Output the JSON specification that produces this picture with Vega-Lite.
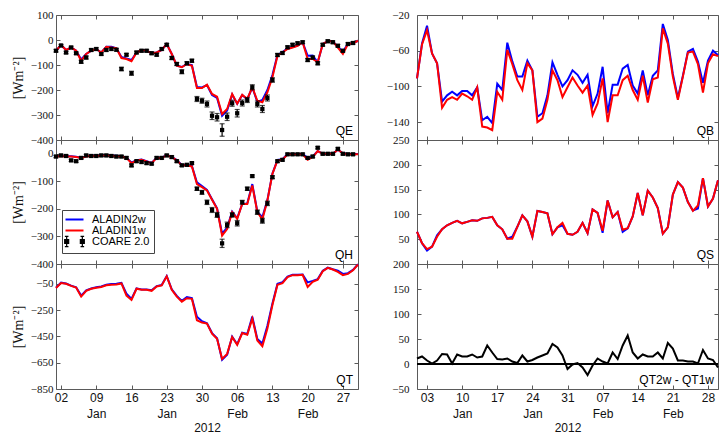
{
  "$schema": "https://vega.github.io/schema/vega-lite/v6.json",
  "padding": {"left": 10, "top": 8, "right": 0, "bottom": 0},
  "background": "white",
  "config": {
    "view": {"stroke": "#5a5a5a", "strokeWidth": 1},
    "axis": {"domain": false, "grid": false, "ticks": true, "tickColor": "#5a5a5a", "tickSize": -4, "tickWidth": 1, "tickCount": 30, "labelColor": "#111", "titleColor": "#111", "titleFontWeight": "normal", "labelOverlap": false, "zindex": 1},
    "axisX": {"labelFont": "Liberation Sans", "labelFontSize": 12, "labelPadding": 7, "labelLineHeight": 16, "labelFlush": false, "titleFont": "Liberation Sans", "titleFontSize": 12, "titlePadding": 3},
    "axisY": {"labelFont": "Liberation Serif", "labelFontSize": 11, "labelPadding": 7, "labelFlush": false, "titleFont": "Liberation Serif", "titleFontSize": 14, "titlePadding": 5}
  },
  "datasets": {
    "qe": [
      {"date":"2012-01-01","w2":-43,"w1":-43},{"date":"2012-01-02","w2":-20,"w1":-20},{"date":"2012-01-03","w2":-40,"w1":-40},{"date":"2012-01-04","w2":-30,"w1":-30},{"date":"2012-01-05","w2":-43,"w1":-43},
      {"date":"2012-01-06","w2":-78,"w1":-83},{"date":"2012-01-07","w2":-56,"w1":-56},{"date":"2012-01-08","w2":-43,"w1":-43},{"date":"2012-01-09","w2":-36,"w1":-36},{"date":"2012-01-10","w2":-50,"w1":-50},
      {"date":"2012-01-11","w2":-27,"w1":-27},{"date":"2012-01-12","w2":-27,"w1":-30},{"date":"2012-01-13","w2":-33,"w1":-33},{"date":"2012-01-14","w2":-68,"w1":-72},{"date":"2012-01-15","w2":-74,"w1":-76},
      {"date":"2012-01-16","w2":-80,"w1":-85},{"date":"2012-01-17","w2":-50,"w1":-50},{"date":"2012-01-18","w2":-40,"w1":-40},{"date":"2012-01-19","w2":-43,"w1":-43},{"date":"2012-01-20","w2":-53,"w1":-53},
      {"date":"2012-01-21","w2":-50,"w1":-50},{"date":"2012-01-22","w2":-40,"w1":-40},{"date":"2012-01-23","w2":-16,"w1":-16},{"date":"2012-01-24","w2":-56,"w1":-56},{"date":"2012-01-25","w2":-103,"w1":-103},
      {"date":"2012-01-26","w2":-108,"w1":-109},{"date":"2012-01-27","w2":-96,"w1":-96},{"date":"2012-01-28","w2":-100,"w1":-103},{"date":"2012-01-29","w2":-188,"w1":-192},{"date":"2012-01-30","w2":-190,"w1":-192},
      {"date":"2012-01-31","w2":-180,"w1":-179},{"date":"2012-02-01","w2":-220,"w1":-216},{"date":"2012-02-02","w2":-232,"w1":-227},{"date":"2012-02-03","w2":-303,"w1":-296},{"date":"2012-02-04","w2":-282,"w1":-276},
      {"date":"2012-02-05","w2":-218,"w1":-216},{"date":"2012-02-06","w2":-255,"w1":-255},{"date":"2012-02-07","w2":-220,"w1":-219},{"date":"2012-02-08","w2":-238,"w1":-236},{"date":"2012-02-09","w2":-189,"w1":-189},
      {"date":"2012-02-10","w2":-248,"w1":-243},{"date":"2012-02-11","w2":-240,"w1":-249},{"date":"2012-02-12","w2":-200,"w1":-209},{"date":"2012-02-13","w2":-140,"w1":-149},{"date":"2012-02-14","w2":-60,"w1":-63},
      {"date":"2012-02-15","w2":-48,"w1":-50},{"date":"2012-02-16","w2":-34,"w1":-36},{"date":"2012-02-17","w2":-28,"w1":-30},{"date":"2012-02-18","w2":-22,"w1":-23},{"date":"2012-02-19","w2":-9,"w1":-9},
      {"date":"2012-02-20","w2":-63,"w1":-76},{"date":"2012-02-21","w2":-62,"w1":-76},{"date":"2012-02-22","w2":-89,"w1":-89},{"date":"2012-02-23","w2":-16,"w1":-16},{"date":"2012-02-24","w2":-5,"w1":-5},
      {"date":"2012-02-25","w2":-5,"w1":-5},{"date":"2012-02-26","w2":-28,"w1":-30},{"date":"2012-02-27","w2":-46,"w1":-56},{"date":"2012-02-28","w2":-16,"w1":-16},{"date":"2012-02-29","w2":-13,"w1":-13},
      {"date":"2012-03-01","w2":-3,"w1":-3}
    ],
    "qe_obs": [
      {"date":"2012-01-01","value":-43,"err":5},{"date":"2012-01-02","value":-22,"err":4},{"date":"2012-01-03","value":-50,"err":5},{"date":"2012-01-04","value":-30,"err":5},{"date":"2012-01-05","value":-53,"err":5},
      {"date":"2012-01-06","value":-87,"err":6},{"date":"2012-01-07","value":-70,"err":6},{"date":"2012-01-08","value":-40,"err":5},{"date":"2012-01-09","value":-36,"err":5},{"date":"2012-01-10","value":-56,"err":5},
      {"date":"2012-01-11","value":-40,"err":5},{"date":"2012-01-12","value":-36,"err":5},{"date":"2012-01-13","value":-39,"err":5},{"date":"2012-01-14","value":-116,"err":7},{"date":"2012-01-15","value":-59,"err":5},
      {"date":"2012-01-16","value":-133,"err":8},{"date":"2012-01-17","value":-50,"err":5},{"date":"2012-01-18","value":-43,"err":5},{"date":"2012-01-19","value":-43,"err":5},{"date":"2012-01-20","value":-53,"err":5},
      {"date":"2012-01-21","value":-59,"err":5},{"date":"2012-01-22","value":-36,"err":5},{"date":"2012-01-23","value":-19,"err":5},{"date":"2012-01-24","value":-72,"err":6},{"date":"2012-01-25","value":-96,"err":6},
      {"date":"2012-01-26","value":-127,"err":8},{"date":"2012-01-27","value":-93,"err":6},{"date":"2012-01-28","value":-83,"err":6},{"date":"2012-01-29","value":-236,"err":10},{"date":"2012-01-30","value":-243,"err":10},
      {"date":"2012-01-31","value":-256,"err":12},{"date":"2012-02-01","value":-303,"err":15},{"date":"2012-02-02","value":-309,"err":15},{"date":"2012-02-03","value":-360,"err":25},{"date":"2012-02-04","value":-307,"err":15},
      {"date":"2012-02-05","value":-253,"err":12},{"date":"2012-02-06","value":-293,"err":15},{"date":"2012-02-07","value":-252,"err":12},{"date":"2012-02-08","value":-240,"err":10},{"date":"2012-02-09","value":-189,"err":10},
      {"date":"2012-02-10","value":-256,"err":12},{"date":"2012-02-11","value":-276,"err":14},{"date":"2012-02-12","value":-232,"err":12},{"date":"2012-02-13","value":-160,"err":9},{"date":"2012-02-14","value":-60,"err":6},
      {"date":"2012-02-15","value":-52,"err":5},{"date":"2012-02-16","value":-29,"err":5},{"date":"2012-02-17","value":-19,"err":5},{"date":"2012-02-18","value":-13,"err":5},{"date":"2012-02-19","value":-9,"err":5},
      {"date":"2012-02-20","value":-80,"err":6},{"date":"2012-02-21","value":-70,"err":6},{"date":"2012-02-22","value":-93,"err":6},{"date":"2012-02-23","value":-19,"err":5},{"date":"2012-02-24","value":-5,"err":5},
      {"date":"2012-02-25","value":-9,"err":5},{"date":"2012-02-26","value":-23,"err":5},{"date":"2012-02-27","value":-43,"err":5},{"date":"2012-02-28","value":-16,"err":5},{"date":"2012-02-29","value":-12,"err":5}
    ],
    "qh": [
      {"date":"2012-01-01","w2":-9,"w1":-10},{"date":"2012-01-02","w2":-7,"w1":-8},{"date":"2012-01-03","w2":-9,"w1":-10},{"date":"2012-01-04","w2":-9,"w1":-10},{"date":"2012-01-05","w2":-11,"w1":-12},
      {"date":"2012-01-06","w2":-14,"w1":-15},{"date":"2012-01-07","w2":-9,"w1":-10},{"date":"2012-01-08","w2":-6,"w1":-7},{"date":"2012-01-09","w2":-7,"w1":-8},{"date":"2012-01-10","w2":-5,"w1":-6},
      {"date":"2012-01-11","w2":-5,"w1":-6},{"date":"2012-01-12","w2":-6,"w1":-7},{"date":"2012-01-13","w2":-7,"w1":-8},{"date":"2012-01-14","w2":-9,"w1":-10},{"date":"2012-01-15","w2":-14,"w1":-15},
      {"date":"2012-01-16","w2":-32,"w1":-34},{"date":"2012-01-17","w2":-23,"w1":-24},{"date":"2012-01-18","w2":-21,"w1":-22},{"date":"2012-01-19","w2":-27,"w1":-28},{"date":"2012-01-20","w2":-33,"w1":-34},
      {"date":"2012-01-21","w2":-14,"w1":-15},{"date":"2012-01-22","w2":-14,"w1":-15},{"date":"2012-01-23","w2":-5,"w1":-6},{"date":"2012-01-24","w2":-11,"w1":-12},{"date":"2012-01-25","w2":-23,"w1":-24},
      {"date":"2012-01-26","w2":-41,"w1":-42},{"date":"2012-01-27","w2":-41,"w1":-42},{"date":"2012-01-28","w2":-44,"w1":-46},{"date":"2012-01-29","w2":-104,"w1":-110},{"date":"2012-01-30","w2":-117,"w1":-121},
      {"date":"2012-01-31","w2":-131,"w1":-133},{"date":"2012-02-01","w2":-165,"w1":-167},{"date":"2012-02-02","w2":-198,"w1":-200},{"date":"2012-02-03","w2":-290,"w1":-297},{"date":"2012-02-04","w2":-268,"w1":-273},
      {"date":"2012-02-05","w2":-210,"w1":-212},{"date":"2012-02-06","w2":-234,"w1":-236},{"date":"2012-02-07","w2":-182,"w1":-182},{"date":"2012-02-08","w2":-180,"w1":-182},{"date":"2012-02-09","w2":-110,"w1":-115},
      {"date":"2012-02-10","w2":-210,"w1":-212},{"date":"2012-02-11","w2":-230,"w1":-238},{"date":"2012-02-12","w2":-168,"w1":-170},{"date":"2012-02-13","w2":-72,"w1":-73},{"date":"2012-02-14","w2":-22,"w1":-24},
      {"date":"2012-02-15","w2":-20,"w1":-22},{"date":"2012-02-16","w2":-1,"w1":-2},{"date":"2012-02-17","w2":-1,"w1":-2},{"date":"2012-02-18","w2":-1,"w1":-2},{"date":"2012-02-19","w2":-1,"w1":-2},
      {"date":"2012-02-20","w2":-15,"w1":-22},{"date":"2012-02-21","w2":-10,"w1":-12},{"date":"2012-02-22","w2":10,"w1":10},{"date":"2012-02-23","w2":0,"w1":0},{"date":"2012-02-24","w2":0,"w1":0},
      {"date":"2012-02-25","w2":0,"w1":0},{"date":"2012-02-26","w2":15,"w1":15},{"date":"2012-02-27","w2":2,"w1":2},{"date":"2012-02-28","w2":-1,"w1":-2},{"date":"2012-02-29","w2":-1,"w1":-2},
      {"date":"2012-03-01","w2":-1,"w1":-2}
    ],
    "qh_obs": [
      {"date":"2012-01-01","value":-10,"err":4},{"date":"2012-01-02","value":-6,"err":4},{"date":"2012-01-03","value":-8,"err":4},{"date":"2012-01-04","value":-24,"err":4},{"date":"2012-01-05","value":-27,"err":4},
      {"date":"2012-01-06","value":-15,"err":4},{"date":"2012-01-07","value":-6,"err":4},{"date":"2012-01-08","value":-8,"err":4},{"date":"2012-01-09","value":-8,"err":4},{"date":"2012-01-10","value":-6,"err":4},
      {"date":"2012-01-11","value":-6,"err":4},{"date":"2012-01-12","value":-8,"err":4},{"date":"2012-01-13","value":-10,"err":4},{"date":"2012-01-14","value":-10,"err":4},{"date":"2012-01-15","value":-15,"err":4},
      {"date":"2012-01-16","value":-42,"err":5},{"date":"2012-01-17","value":-27,"err":4},{"date":"2012-01-18","value":-30,"err":4},{"date":"2012-01-19","value":-34,"err":4},{"date":"2012-01-20","value":-36,"err":4},
      {"date":"2012-01-21","value":-15,"err":4},{"date":"2012-01-22","value":-15,"err":4},{"date":"2012-01-23","value":-6,"err":4},{"date":"2012-01-24","value":-12,"err":4},{"date":"2012-01-25","value":-27,"err":4},
      {"date":"2012-01-26","value":-42,"err":4},{"date":"2012-01-27","value":-40,"err":4},{"date":"2012-01-28","value":-34,"err":4},{"date":"2012-01-29","value":-127,"err":6},{"date":"2012-01-30","value":-140,"err":7},
      {"date":"2012-01-31","value":-176,"err":8},{"date":"2012-02-01","value":-204,"err":9},{"date":"2012-02-02","value":-222,"err":9},{"date":"2012-02-03","value":-325,"err":15},{"date":"2012-02-04","value":-258,"err":10},
      {"date":"2012-02-05","value":-222,"err":8},{"date":"2012-02-06","value":-252,"err":10},{"date":"2012-02-07","value":-176,"err":7},{"date":"2012-02-08","value":-127,"err":6},{"date":"2012-02-09","value":-81,"err":4},
      {"date":"2012-02-10","value":-212,"err":8},{"date":"2012-02-11","value":-243,"err":9},{"date":"2012-02-12","value":-180,"err":8},{"date":"2012-02-13","value":-85,"err":5},{"date":"2012-02-14","value":-27,"err":4},
      {"date":"2012-02-15","value":-22,"err":4},{"date":"2012-02-16","value":-2,"err":4},{"date":"2012-02-17","value":-2,"err":4},{"date":"2012-02-18","value":-2,"err":4},{"date":"2012-02-19","value":-2,"err":4},
      {"date":"2012-02-20","value":-15,"err":4},{"date":"2012-02-21","value":-10,"err":4},{"date":"2012-02-22","value":22,"err":4},{"date":"2012-02-23","value":0,"err":4},{"date":"2012-02-24","value":0,"err":4},
      {"date":"2012-02-25","value":0,"err":4},{"date":"2012-02-26","value":18,"err":4},{"date":"2012-02-27","value":0,"err":4},{"date":"2012-02-28","value":-2,"err":4},{"date":"2012-02-29","value":-2,"err":4}
    ],
    "qt": [
      {"date":"2012-01-01","w2":-80,"w1":-83},{"date":"2012-01-02","w2":-42,"w1":-45},{"date":"2012-01-03","w2":-48,"w1":-50},{"date":"2012-01-04","w2":-64,"w1":-66},{"date":"2012-01-05","w2":-77,"w1":-79},
      {"date":"2012-01-06","w2":-140,"w1":-148},{"date":"2012-01-07","w2":-100,"w1":-104},{"date":"2012-01-08","w2":-86,"w1":-88},{"date":"2012-01-09","w2":-76,"w1":-80},{"date":"2012-01-10","w2":-70,"w1":-75},
      {"date":"2012-01-11","w2":-58,"w1":-62},{"date":"2012-01-12","w2":-52,"w1":-58},{"date":"2012-01-13","w2":-50,"w1":-55},{"date":"2012-01-14","w2":-44,"w1":-48},{"date":"2012-01-15","w2":-125,"w1":-140},
      {"date":"2012-01-16","w2":-165,"w1":-173},{"date":"2012-01-17","w2":-85,"w1":-88},{"date":"2012-01-18","w2":-94,"w1":-96},{"date":"2012-01-19","w2":-94,"w1":-96},{"date":"2012-01-20","w2":-100,"w1":-104},
      {"date":"2012-01-21","w2":-68,"w1":-71},{"date":"2012-01-22","w2":-60,"w1":-63},{"date":"2012-01-23","w2":8,"w1":6},{"date":"2012-01-24","w2":-92,"w1":-96},{"date":"2012-01-25","w2":-142,"w1":-148},
      {"date":"2012-01-26","w2":-180,"w1":-186},{"date":"2012-01-27","w2":-152,"w1":-160},{"date":"2012-01-28","w2":-160,"w1":-165},{"date":"2012-01-29","w2":-301,"w1":-327},{"date":"2012-01-30","w2":-335,"w1":-345},
      {"date":"2012-01-31","w2":-350,"w1":-353},{"date":"2012-02-01","w2":-425,"w1":-429},{"date":"2012-02-02","w2":-465,"w1":-468},{"date":"2012-02-03","w2":-628,"w1":-621},{"date":"2012-02-04","w2":-590,"w1":-583},
      {"date":"2012-02-05","w2":-452,"w1":-455},{"date":"2012-02-06","w2":-510,"w1":-514},{"date":"2012-02-07","w2":-422,"w1":-425},{"date":"2012-02-08","w2":-432,"w1":-437},{"date":"2012-02-09","w2":-300,"w1":-315},
      {"date":"2012-02-10","w2":-470,"w1":-481},{"date":"2012-02-11","w2":-505,"w1":-524},{"date":"2012-02-12","w2":-370,"w1":-391},{"date":"2012-02-13","w2":-200,"w1":-211},{"date":"2012-02-14","w2":-50,"w1":-58},
      {"date":"2012-02-15","w2":-38,"w1":-45},{"date":"2012-02-16","w2":5,"w1":0},{"date":"2012-02-17","w2":18,"w1":15},{"date":"2012-02-18","w2":18,"w1":15},{"date":"2012-02-19","w2":20,"w1":18},
      {"date":"2012-02-20","w2":-40,"w1":-75},{"date":"2012-02-21","w2":-28,"w1":-35},{"date":"2012-02-22","w2":-15,"w1":-19},{"date":"2012-02-23","w2":48,"w1":45},{"date":"2012-02-24","w2":72,"w1":71},
      {"date":"2012-02-25","w2":60,"w1":58},{"date":"2012-02-26","w2":50,"w1":40},{"date":"2012-02-27","w2":25,"w1":15},{"date":"2012-02-28","w2":30,"w1":25},{"date":"2012-02-29","w2":55,"w1":52},
      {"date":"2012-03-01","w2":98,"w1":96}
    ],
    "qb": [
      {"date":"2012-01-01","w2":-91,"w1":-91},{"date":"2012-01-02","w2":-52,"w1":-53},{"date":"2012-01-03","w2":-32,"w1":-37},{"date":"2012-01-04","w2":-63,"w1":-63},{"date":"2012-01-05","w2":-74,"w1":-74},
      {"date":"2012-01-06","w2":-117,"w1":-124},{"date":"2012-01-07","w2":-110,"w1":-115},{"date":"2012-01-08","w2":-106,"w1":-112},{"date":"2012-01-09","w2":-110,"w1":-115},{"date":"2012-01-10","w2":-105,"w1":-108},
      {"date":"2012-01-11","w2":-105,"w1":-111},{"date":"2012-01-12","w2":-110,"w1":-115},{"date":"2012-01-13","w2":-101,"w1":-101},{"date":"2012-01-14","w2":-138,"w1":-145},{"date":"2012-01-15","w2":-134,"w1":-146},
      {"date":"2012-01-16","w2":-141,"w1":-149},{"date":"2012-01-17","w2":-97,"w1":-106},{"date":"2012-01-18","w2":-104,"w1":-115},{"date":"2012-01-19","w2":-51,"w1":-59},{"date":"2012-01-20","w2":-72,"w1":-75},
      {"date":"2012-01-21","w2":-89,"w1":-93},{"date":"2012-01-22","w2":-89,"w1":-104},{"date":"2012-01-23","w2":-71,"w1":-74},{"date":"2012-01-24","w2":-82,"w1":-82},{"date":"2012-01-25","w2":-134,"w1":-140},
      {"date":"2012-01-26","w2":-130,"w1":-136},{"date":"2012-01-27","w2":-110,"w1":-115},{"date":"2012-01-28","w2":-73,"w1":-82},{"date":"2012-01-29","w2":-87,"w1":-93},{"date":"2012-01-30","w2":-100,"w1":-112},
      {"date":"2012-01-31","w2":-93,"w1":-101},{"date":"2012-02-01","w2":-82,"w1":-90},{"date":"2012-02-02","w2":-87,"w1":-99},{"date":"2012-02-03","w2":-96,"w1":-107},{"date":"2012-02-04","w2":-87,"w1":-99},
      {"date":"2012-02-05","w2":-122,"w1":-132},{"date":"2012-02-06","w2":-108,"w1":-119},{"date":"2012-02-07","w2":-78,"w1":-91},{"date":"2012-02-08","w2":-130,"w1":-140},{"date":"2012-02-09","w2":-98,"w1":-110},
      {"date":"2012-02-10","w2":-98,"w1":-110},{"date":"2012-02-11","w2":-80,"w1":-93},{"date":"2012-02-12","w2":-76,"w1":-88},{"date":"2012-02-13","w2":-99,"w1":-104},{"date":"2012-02-14","w2":-108,"w1":-115},
      {"date":"2012-02-15","w2":-82,"w1":-88},{"date":"2012-02-16","w2":-110,"w1":-118},{"date":"2012-02-17","w2":-88,"w1":-92},{"date":"2012-02-18","w2":-82,"w1":-90},{"date":"2012-02-19","w2":-30,"w1":-35},
      {"date":"2012-02-20","w2":-48,"w1":-52},{"date":"2012-02-21","w2":-86,"w1":-89},{"date":"2012-02-22","w2":-113,"w1":-115},{"date":"2012-02-23","w2":-88,"w1":-89},{"date":"2012-02-24","w2":-61,"w1":-62},
      {"date":"2012-02-25","w2":-58,"w1":-61},{"date":"2012-02-26","w2":-72,"w1":-75},{"date":"2012-02-27","w2":-96,"w1":-107},{"date":"2012-02-28","w2":-71,"w1":-74},{"date":"2012-02-29","w2":-60,"w1":-64},
      {"date":"2012-03-01","w2":-65,"w1":-66}
    ],
    "qs": [
      {"date":"2012-01-01","w2":65,"w1":65},{"date":"2012-01-02","w2":42,"w1":42},{"date":"2012-01-03","w2":27,"w1":30},{"date":"2012-01-04","w2":35,"w1":35},{"date":"2012-01-05","w2":58,"w1":55},
      {"date":"2012-01-06","w2":70,"w1":70},{"date":"2012-01-07","w2":78,"w1":78},{"date":"2012-01-08","w2":83,"w1":83},{"date":"2012-01-09","w2":87,"w1":87},{"date":"2012-01-10","w2":82,"w1":82},
      {"date":"2012-01-11","w2":85,"w1":85},{"date":"2012-01-12","w2":88,"w1":88},{"date":"2012-01-13","w2":87,"w1":87},{"date":"2012-01-14","w2":92,"w1":92},{"date":"2012-01-15","w2":93,"w1":93},
      {"date":"2012-01-16","w2":95,"w1":95},{"date":"2012-01-17","w2":78,"w1":78},{"date":"2012-01-18","w2":70,"w1":70},{"date":"2012-01-19","w2":51,"w1":51},{"date":"2012-01-20","w2":55,"w1":51},
      {"date":"2012-01-21","w2":75,"w1":75},{"date":"2012-01-22","w2":98,"w1":98},{"date":"2012-01-23","w2":86,"w1":86},{"date":"2012-01-24","w2":55,"w1":55},{"date":"2012-01-25","w2":107,"w1":107},
      {"date":"2012-01-26","w2":105,"w1":105},{"date":"2012-01-27","w2":102,"w1":102},{"date":"2012-01-28","w2":60,"w1":60},{"date":"2012-01-29","w2":74,"w1":74},{"date":"2012-01-30","w2":78,"w1":83},
      {"date":"2012-01-31","w2":61,"w1":61},{"date":"2012-02-01","w2":59,"w1":59},{"date":"2012-02-02","w2":65,"w1":65},{"date":"2012-02-03","w2":83,"w1":83},{"date":"2012-02-04","w2":62,"w1":62},
      {"date":"2012-02-05","w2":110,"w1":110},{"date":"2012-02-06","w2":103,"w1":103},{"date":"2012-02-07","w2":63,"w1":67},{"date":"2012-02-08","w2":128,"w1":128},{"date":"2012-02-09","w2":94,"w1":94},
      {"date":"2012-02-10","w2":105,"w1":105},{"date":"2012-02-11","w2":65,"w1":69},{"date":"2012-02-12","w2":72,"w1":72},{"date":"2012-02-13","w2":96,"w1":96},{"date":"2012-02-14","w2":143,"w1":143},
      {"date":"2012-02-15","w2":98,"w1":98},{"date":"2012-02-16","w2":148,"w1":148},{"date":"2012-02-17","w2":134,"w1":134},{"date":"2012-02-18","w2":113,"w1":113},{"date":"2012-02-19","w2":61,"w1":61},
      {"date":"2012-02-20","w2":74,"w1":74},{"date":"2012-02-21","w2":140,"w1":140},{"date":"2012-02-22","w2":165,"w1":165},{"date":"2012-02-23","w2":154,"w1":154},{"date":"2012-02-24","w2":125,"w1":125},
      {"date":"2012-02-25","w2":108,"w1":107},{"date":"2012-02-26","w2":112,"w1":118},{"date":"2012-02-27","w2":173,"w1":173},{"date":"2012-02-28","w2":116,"w1":116},{"date":"2012-02-29","w2":132,"w1":132},
      {"date":"2012-03-01","w2":169,"w1":169}
    ],
    "dqt": [
      {"date":"2012-01-01","diff":11},{"date":"2012-01-02","diff":15},{"date":"2012-01-03","diff":7},{"date":"2012-01-04","diff":1},{"date":"2012-01-05","diff":7},
      {"date":"2012-01-06","diff":20},{"date":"2012-01-07","diff":19},{"date":"2012-01-08","diff":1},{"date":"2012-01-09","diff":19},{"date":"2012-01-10","diff":15},
      {"date":"2012-01-11","diff":15},{"date":"2012-01-12","diff":19},{"date":"2012-01-13","diff":13},{"date":"2012-01-14","diff":15},{"date":"2012-01-15","diff":37},
      {"date":"2012-01-16","diff":23},{"date":"2012-01-17","diff":10},{"date":"2012-01-18","diff":9},{"date":"2012-01-19","diff":11},{"date":"2012-01-20","diff":5},
      {"date":"2012-01-21","diff":2},{"date":"2012-01-22","diff":17},{"date":"2012-01-23","diff":5},{"date":"2012-01-24","diff":8},{"date":"2012-01-25","diff":13},
      {"date":"2012-01-26","diff":17},{"date":"2012-01-27","diff":21},{"date":"2012-01-28","diff":40},{"date":"2012-01-29","diff":33},{"date":"2012-01-30","diff":17},
      {"date":"2012-01-31","diff":-10},{"date":"2012-02-01","diff":-1},{"date":"2012-02-02","diff":2},{"date":"2012-02-03","diff":-7},{"date":"2012-02-04","diff":-22},
      {"date":"2012-02-05","diff":-3},{"date":"2012-02-06","diff":11},{"date":"2012-02-07","diff":5},{"date":"2012-02-08","diff":1},{"date":"2012-02-09","diff":23},
      {"date":"2012-02-10","diff":10},{"date":"2012-02-11","diff":37},{"date":"2012-02-12","diff":57},{"date":"2012-02-13","diff":23},{"date":"2012-02-14","diff":11},
      {"date":"2012-02-15","diff":19},{"date":"2012-02-16","diff":15},{"date":"2012-02-17","diff":15},{"date":"2012-02-18","diff":23},{"date":"2012-02-19","diff":11},
      {"date":"2012-02-20","diff":42},{"date":"2012-02-21","diff":31},{"date":"2012-02-22","diff":7},{"date":"2012-02-23","diff":7},{"date":"2012-02-24","diff":5},
      {"date":"2012-02-25","diff":5},{"date":"2012-02-26","diff":1},{"date":"2012-02-27","diff":28},{"date":"2012-02-28","diff":11},{"date":"2012-02-29","diff":8},
      {"date":"2012-03-01","diff":-7}
    ]
  },
  "hconcat": [
    {
      "vconcat": [
        {
          "width": 302, "height": 125,
          "resolve": {"axis": {"x": "independent", "y": "independent"}},
          "layer": [
            {"data": {"name": "qe"}, "mark": {"type": "line", "strokeWidth": 2},
             "encoding": {
               "x": {"field": "date", "type": "temporal", "title": null, "scale": {"type": "utc", "domain": [{"year": 2012, "month": 1, "date": 1, "utc": true}, {"year": 2012, "month": 3, "date": 1, "utc": true}]},
                     "axis": {"labels": false, "values": [{"year":2012,"month":1,"date":2,"utc":true},{"year":2012,"month":1,"date":9,"utc":true},{"year":2012,"month":1,"date":16,"utc":true},{"year":2012,"month":1,"date":23,"utc":true},{"year":2012,"month":1,"date":30,"utc":true},{"year":2012,"month":2,"date":6,"utc":true},{"year":2012,"month":2,"date":13,"utc":true},{"year":2012,"month":2,"date":20,"utc":true},{"year":2012,"month":2,"date":27,"utc":true}]}},
               "y": {"field": "w2", "type": "quantitative", "title": "[Wm⁻²]", "scale": {"domain": [-400, 100], "nice": false, "zero": false}, "axis": {"values": [-400, -300, -200, -100, 0, 100], "format": "d"}},
               "color": {"datum": "ALADIN2w", "type": "nominal", "scale": {"domain": ["ALADIN2w", "ALADIN1w", "COARE 2.0"], "range": ["#0000ff", "#ff0000", "#000000"]}, "legend": null}
             }},
            {"data": {"name": "qe"}, "mark": {"type": "line", "strokeWidth": 2},
             "encoding": {
               "x": {"field": "date", "type": "temporal", "axis": null},
               "y": {"field": "w1", "type": "quantitative", "axis": null},
               "color": {"datum": "ALADIN1w", "type": "nominal", "legend": null}
             }},
            {"data": {"name": "qe_obs"}, "mark": {"type": "errorbar", "ticks": true, "color": "#000000", "thickness": 1.2},
             "encoding": {
               "x": {"field": "date", "type": "temporal", "axis": null},
               "y": {"field": "value", "type": "quantitative", "axis": null},
               "yError": {"field": "err"}
             }},
            {"data": {"name": "qe_obs"}, "mark": {"type": "point", "shape": "square", "filled": true, "color": "#000000", "size": 18, "opacity": 1},
             "encoding": {
               "x": {"field": "date", "type": "temporal", "axis": null},
               "y": {"field": "value", "type": "quantitative", "axis": null}
             }},
            {"data": {"values": [{"label": "QE"}]}, "mark": {"type": "text", "align": "right", "baseline": "alphabetic", "dx": -5, "dy": -5, "font": "Liberation Sans", "fontSize": 12, "color": "#000000"},
             "encoding": {
               "x": {"datum": {"year": 2012, "month": 3, "date": 1, "utc": true}, "type": "temporal", "title": null,
                     "axis": {"orient": "top", "labels": false, "values": [{"year":2012,"month":1,"date":2,"utc":true},{"year":2012,"month":1,"date":9,"utc":true},{"year":2012,"month":1,"date":16,"utc":true},{"year":2012,"month":1,"date":23,"utc":true},{"year":2012,"month":1,"date":30,"utc":true},{"year":2012,"month":2,"date":6,"utc":true},{"year":2012,"month":2,"date":13,"utc":true},{"year":2012,"month":2,"date":20,"utc":true},{"year":2012,"month":2,"date":27,"utc":true}]}},
               "y": {"datum": -400, "type": "quantitative", "title": null, "axis": {"orient": "right", "labels": false, "values": [-400, -300, -200, -100, 0, 100]}},
               "text": {"field": "label"}
             }}
          ]
        },
        {
          "width": 302, "height": 124,
          "resolve": {"axis": {"x": "independent", "y": "independent"}},
          "layer": [
            {"data": {"name": "qh"}, "mark": {"type": "line", "strokeWidth": 2},
             "encoding": {
               "x": {"field": "date", "type": "temporal", "title": null, "scale": {"type": "utc", "domain": [{"year": 2012, "month": 1, "date": 1, "utc": true}, {"year": 2012, "month": 3, "date": 1, "utc": true}]},
                     "axis": {"labels": false, "values": [{"year":2012,"month":1,"date":2,"utc":true},{"year":2012,"month":1,"date":9,"utc":true},{"year":2012,"month":1,"date":16,"utc":true},{"year":2012,"month":1,"date":23,"utc":true},{"year":2012,"month":1,"date":30,"utc":true},{"year":2012,"month":2,"date":6,"utc":true},{"year":2012,"month":2,"date":13,"utc":true},{"year":2012,"month":2,"date":20,"utc":true},{"year":2012,"month":2,"date":27,"utc":true}]}},
               "y": {"field": "w2", "type": "quantitative", "title": "[Wm⁻²]", "scale": {"domain": [-400, 50], "nice": false, "zero": false}, "axis": {"values": [-400, -300, -200, -100, 0], "format": "d"}},
               "color": {"datum": "ALADIN2w", "type": "nominal", "scale": {"domain": ["ALADIN2w", "ALADIN1w", "COARE 2.0"], "range": ["#0000ff", "#ff0000", "#000000"]},
                         "legend": {"orient": "none", "legendX": 6, "legendY": 70, "title": null, "direction": "vertical", "symbolType": "stroke", "symbolSize": 324, "symbolStrokeWidth": 2, "symbolOffset": 3, "labelOffset": 12, "rowPadding": -3, "padding": 4, "strokeColor": "#444444", "fillColor": "#ffffff", "cornerRadius": 0, "labelFont": "Liberation Sans", "labelFontSize": 11, "labelColor": "#000000",
                                    "encode": {"symbols": {"update": {
                                      "shape": {"signal": "datum.value === 'COARE 2.0' ? 'M-1.09,-0.22h0.44v0.44h-0.44Z M-0.87,-0.56V0.56 M-1.07,-0.56H-0.67 M-1.07,0.56H-0.67 M0.65,-0.22h0.44v0.44h-0.44Z M0.87,-0.56V0.56 M0.67,-0.56H1.07 M0.67,0.56H1.07' : 'stroke'"},
                                      "fill": {"signal": "datum.value === 'COARE 2.0' ? '#000000' : 'transparent'"},
                                      "stroke": {"signal": "datum.value === 'ALADIN2w' ? '#0000ff' : datum.value === 'ALADIN1w' ? '#ff0000' : '#000000'"},
                                      "strokeWidth": {"signal": "datum.value === 'COARE 2.0' ? 1.2 : 2"},
                                      "opacity": {"value": 1}
                                    }}}}}
             }},
            {"data": {"name": "qh"}, "mark": {"type": "line", "strokeWidth": 2},
             "encoding": {
               "x": {"field": "date", "type": "temporal", "axis": null},
               "y": {"field": "w1", "type": "quantitative", "axis": null},
               "color": {"datum": "ALADIN1w", "type": "nominal"}
             }},
            {"data": {"name": "qh_obs"}, "mark": {"type": "errorbar", "ticks": true, "color": "#000000", "thickness": 1.2},
             "encoding": {
               "x": {"field": "date", "type": "temporal", "axis": null},
               "y": {"field": "value", "type": "quantitative", "axis": null},
               "yError": {"field": "err"}
             }},
            {"data": {"name": "qh_obs"}, "mark": {"type": "point", "shape": "square", "filled": true, "color": "#000000", "size": 18, "opacity": 1},
             "encoding": {
               "x": {"field": "date", "type": "temporal", "axis": null},
               "y": {"field": "value", "type": "quantitative", "axis": null}
             }},
            {"data": {"values": [{"label": "QH"}]}, "mark": {"type": "text", "align": "right", "baseline": "alphabetic", "dx": -5, "dy": -5, "font": "Liberation Sans", "fontSize": 12, "color": "#000000"},
             "encoding": {
               "x": {"datum": {"year": 2012, "month": 3, "date": 1, "utc": true}, "type": "temporal", "title": null,
                     "axis": {"orient": "top", "labels": false, "values": [{"year":2012,"month":1,"date":2,"utc":true},{"year":2012,"month":1,"date":9,"utc":true},{"year":2012,"month":1,"date":16,"utc":true},{"year":2012,"month":1,"date":23,"utc":true},{"year":2012,"month":1,"date":30,"utc":true},{"year":2012,"month":2,"date":6,"utc":true},{"year":2012,"month":2,"date":13,"utc":true},{"year":2012,"month":2,"date":20,"utc":true},{"year":2012,"month":2,"date":27,"utc":true}]}},
               "y": {"datum": -400, "type": "quantitative", "title": null, "axis": {"orient": "right", "labels": false, "values": [-400, -300, -200, -100, 0]}},
               "text": {"field": "label"}
             }}
          ]
        },
        {
          "width": 302, "height": 125,
          "resolve": {"axis": {"x": "independent", "y": "independent"}},
          "layer": [
            {"data": {"name": "qt"}, "mark": {"type": "line", "strokeWidth": 2},
             "encoding": {
               "x": {"field": "date", "type": "temporal", "title": "2012", "scale": {"type": "utc", "domain": [{"year": 2012, "month": 1, "date": 1, "utc": true}, {"year": 2012, "month": 3, "date": 1, "utc": true}]},
                     "axis": {"labelExpr": "[utcFormat(datum.value, '%d'), indexof([9, 23, 6, 20], utcdate(datum.value)) >= 0 ? utcFormat(datum.value, '%b') : '']",
                              "values": [{"year":2012,"month":1,"date":2,"utc":true},{"year":2012,"month":1,"date":9,"utc":true},{"year":2012,"month":1,"date":16,"utc":true},{"year":2012,"month":1,"date":23,"utc":true},{"year":2012,"month":1,"date":30,"utc":true},{"year":2012,"month":2,"date":6,"utc":true},{"year":2012,"month":2,"date":13,"utc":true},{"year":2012,"month":2,"date":20,"utc":true},{"year":2012,"month":2,"date":27,"utc":true}]}},
               "y": {"field": "w2", "type": "quantitative", "title": "[Wm⁻²]", "scale": {"domain": [-850, 100], "nice": false, "zero": false}, "axis": {"values": [-850, -650, -450, -250, -50], "format": "d"}},
               "color": {"datum": "ALADIN2w", "type": "nominal", "scale": {"domain": ["ALADIN2w", "ALADIN1w", "COARE 2.0"], "range": ["#0000ff", "#ff0000", "#000000"]}, "legend": null}
             }},
            {"data": {"name": "qt"}, "mark": {"type": "line", "strokeWidth": 2},
             "encoding": {
               "x": {"field": "date", "type": "temporal", "axis": null},
               "y": {"field": "w1", "type": "quantitative", "axis": null},
               "color": {"datum": "ALADIN1w", "type": "nominal", "legend": null}
             }},
            {"data": {"values": [{"label": "QT"}]}, "mark": {"type": "text", "align": "right", "baseline": "alphabetic", "dx": -5, "dy": -5, "font": "Liberation Sans", "fontSize": 12, "color": "#000000"},
             "encoding": {
               "x": {"datum": {"year": 2012, "month": 3, "date": 1, "utc": true}, "type": "temporal", "title": null,
                     "axis": {"orient": "top", "labels": false, "values": [{"year":2012,"month":1,"date":2,"utc":true},{"year":2012,"month":1,"date":9,"utc":true},{"year":2012,"month":1,"date":16,"utc":true},{"year":2012,"month":1,"date":23,"utc":true},{"year":2012,"month":1,"date":30,"utc":true},{"year":2012,"month":2,"date":6,"utc":true},{"year":2012,"month":2,"date":13,"utc":true},{"year":2012,"month":2,"date":20,"utc":true},{"year":2012,"month":2,"date":27,"utc":true}]}},
               "y": {"datum": -850, "type": "quantitative", "title": null, "axis": {"orient": "right", "labels": false, "values": [-850, -650, -450, -250, -50]}},
               "text": {"field": "label"}
             }}
          ]
        }
      ],
      "spacing": 0,
      "bounds": "flush",
      "resolve": {"scale": {"x": "independent", "y": "independent", "color": "independent"}, "legend": {"color": "independent"}}
    },
    {
      "vconcat": [
        {
          "width": 301, "height": 125,
          "resolve": {"axis": {"x": "independent", "y": "independent"}},
          "layer": [
            {"data": {"name": "qb"}, "mark": {"type": "line", "strokeWidth": 2},
             "encoding": {
               "x": {"field": "date", "type": "temporal", "title": null, "scale": {"type": "utc", "domain": [{"year": 2012, "month": 1, "date": 1, "utc": true}, {"year": 2012, "month": 3, "date": 1, "utc": true}]},
                     "axis": {"labels": false, "values": [{"year":2012,"month":1,"date":3,"utc":true},{"year":2012,"month":1,"date":10,"utc":true},{"year":2012,"month":1,"date":17,"utc":true},{"year":2012,"month":1,"date":24,"utc":true},{"year":2012,"month":1,"date":31,"utc":true},{"year":2012,"month":2,"date":7,"utc":true},{"year":2012,"month":2,"date":14,"utc":true},{"year":2012,"month":2,"date":21,"utc":true},{"year":2012,"month":2,"date":28,"utc":true}]}},
               "y": {"field": "w2", "type": "quantitative", "title": null, "scale": {"domain": [-160, -20], "nice": false, "zero": false}, "axis": {"values": [-140, -100, -60, -20], "format": "d", "labelPadding": 12}},
               "color": {"datum": "ALADIN2w", "type": "nominal", "scale": {"domain": ["ALADIN2w", "ALADIN1w", "COARE 2.0"], "range": ["#0000ff", "#ff0000", "#000000"]}, "legend": null}
             }},
            {"data": {"name": "qb"}, "mark": {"type": "line", "strokeWidth": 2},
             "encoding": {
               "x": {"field": "date", "type": "temporal", "axis": null},
               "y": {"field": "w1", "type": "quantitative", "axis": null},
               "color": {"datum": "ALADIN1w", "type": "nominal", "legend": null}
             }},
            {"data": {"values": [{"label": "QB"}]}, "mark": {"type": "text", "align": "right", "baseline": "alphabetic", "dx": -4, "dy": -5, "font": "Liberation Sans", "fontSize": 12, "color": "#000000"},
             "encoding": {
               "x": {"datum": {"year": 2012, "month": 3, "date": 1, "utc": true}, "type": "temporal", "title": null,
                     "axis": {"orient": "top", "labels": false, "values": [{"year":2012,"month":1,"date":3,"utc":true},{"year":2012,"month":1,"date":10,"utc":true},{"year":2012,"month":1,"date":17,"utc":true},{"year":2012,"month":1,"date":24,"utc":true},{"year":2012,"month":1,"date":31,"utc":true},{"year":2012,"month":2,"date":7,"utc":true},{"year":2012,"month":2,"date":14,"utc":true},{"year":2012,"month":2,"date":21,"utc":true},{"year":2012,"month":2,"date":28,"utc":true}]}},
               "y": {"datum": -160, "type": "quantitative", "title": null, "axis": {"orient": "right", "labels": false, "values": [-140, -100, -60, -20]}},
               "text": {"field": "label"}
             }}
          ]
        },
        {
          "width": 301, "height": 124,
          "resolve": {"axis": {"x": "independent", "y": "independent"}},
          "layer": [
            {"data": {"name": "qs"}, "mark": {"type": "line", "strokeWidth": 2},
             "encoding": {
               "x": {"field": "date", "type": "temporal", "title": null, "scale": {"type": "utc", "domain": [{"year": 2012, "month": 1, "date": 1, "utc": true}, {"year": 2012, "month": 3, "date": 1, "utc": true}]},
                     "axis": {"labels": false, "values": [{"year":2012,"month":1,"date":3,"utc":true},{"year":2012,"month":1,"date":10,"utc":true},{"year":2012,"month":1,"date":17,"utc":true},{"year":2012,"month":1,"date":24,"utc":true},{"year":2012,"month":1,"date":31,"utc":true},{"year":2012,"month":2,"date":7,"utc":true},{"year":2012,"month":2,"date":14,"utc":true},{"year":2012,"month":2,"date":21,"utc":true},{"year":2012,"month":2,"date":28,"utc":true}]}},
               "y": {"field": "w2", "type": "quantitative", "title": null, "scale": {"domain": [0, 250], "nice": false, "zero": false}, "axis": {"values": [50, 100, 150, 200, 250], "format": "d", "labelPadding": 12}},
               "color": {"datum": "ALADIN2w", "type": "nominal", "scale": {"domain": ["ALADIN2w", "ALADIN1w", "COARE 2.0"], "range": ["#0000ff", "#ff0000", "#000000"]}, "legend": null}
             }},
            {"data": {"name": "qs"}, "mark": {"type": "line", "strokeWidth": 2},
             "encoding": {
               "x": {"field": "date", "type": "temporal", "axis": null},
               "y": {"field": "w1", "type": "quantitative", "axis": null},
               "color": {"datum": "ALADIN1w", "type": "nominal", "legend": null}
             }},
            {"data": {"values": [{"label": "QS"}]}, "mark": {"type": "text", "align": "right", "baseline": "alphabetic", "dx": -4, "dy": -5, "font": "Liberation Sans", "fontSize": 12, "color": "#000000"},
             "encoding": {
               "x": {"datum": {"year": 2012, "month": 3, "date": 1, "utc": true}, "type": "temporal", "title": null,
                     "axis": {"orient": "top", "labels": false, "values": [{"year":2012,"month":1,"date":3,"utc":true},{"year":2012,"month":1,"date":10,"utc":true},{"year":2012,"month":1,"date":17,"utc":true},{"year":2012,"month":1,"date":24,"utc":true},{"year":2012,"month":1,"date":31,"utc":true},{"year":2012,"month":2,"date":7,"utc":true},{"year":2012,"month":2,"date":14,"utc":true},{"year":2012,"month":2,"date":21,"utc":true},{"year":2012,"month":2,"date":28,"utc":true}]}},
               "y": {"datum": 0, "type": "quantitative", "title": null, "axis": {"orient": "right", "labels": false, "values": [50, 100, 150, 200, 250]}},
               "text": {"field": "label"}
             }}
          ]
        },
        {
          "width": 301, "height": 125,
          "resolve": {"axis": {"x": "independent", "y": "independent"}},
          "layer": [
            {"data": {"name": "dqt"}, "mark": {"type": "line", "strokeWidth": 2, "color": "#000000"},
             "encoding": {
               "x": {"field": "date", "type": "temporal", "title": "2012", "scale": {"type": "utc", "domain": [{"year": 2012, "month": 1, "date": 1, "utc": true}, {"year": 2012, "month": 3, "date": 1, "utc": true}]},
                     "axis": {"labelExpr": "[utcFormat(datum.value, '%d'), indexof([10, 24, 7, 21], utcdate(datum.value)) >= 0 ? utcFormat(datum.value, '%b') : '']",
                              "values": [{"year":2012,"month":1,"date":3,"utc":true},{"year":2012,"month":1,"date":10,"utc":true},{"year":2012,"month":1,"date":17,"utc":true},{"year":2012,"month":1,"date":24,"utc":true},{"year":2012,"month":1,"date":31,"utc":true},{"year":2012,"month":2,"date":7,"utc":true},{"year":2012,"month":2,"date":14,"utc":true},{"year":2012,"month":2,"date":21,"utc":true},{"year":2012,"month":2,"date":28,"utc":true}]}},
               "y": {"field": "diff", "type": "quantitative", "title": null, "scale": {"domain": [-50, 200], "nice": false, "zero": false}, "axis": {"values": [-50, 0, 50, 100, 150, 200], "tickCount": 30, "format": "d", "labelPadding": 12, "labelOverlap": false, "labelBound": false, "labelFlush": false, "labelBaseline": "middle"}}
             }},
            {"data": {"values": [{"level": 0}]}, "mark": {"type": "rule", "color": "#000000", "strokeWidth": 2},
             "encoding": {
               "y": {"field": "level", "type": "quantitative", "axis": null}
             }},
            {"data": {"values": [{"label": "QT2w - QT1w"}]}, "mark": {"type": "text", "align": "right", "baseline": "alphabetic", "dx": -4, "dy": -5, "font": "Liberation Sans", "fontSize": 12, "color": "#000000"},
             "encoding": {
               "x": {"datum": {"year": 2012, "month": 3, "date": 1, "utc": true}, "type": "temporal", "title": null,
                     "axis": {"orient": "top", "labels": false, "values": [{"year":2012,"month":1,"date":3,"utc":true},{"year":2012,"month":1,"date":10,"utc":true},{"year":2012,"month":1,"date":17,"utc":true},{"year":2012,"month":1,"date":24,"utc":true},{"year":2012,"month":1,"date":31,"utc":true},{"year":2012,"month":2,"date":7,"utc":true},{"year":2012,"month":2,"date":14,"utc":true},{"year":2012,"month":2,"date":21,"utc":true},{"year":2012,"month":2,"date":28,"utc":true}]}},
               "y": {"datum": -50, "type": "quantitative", "title": null, "axis": {"orient": "right", "labels": false, "values": [-50, 0, 50, 100, 150, 200]}},
               "text": {"field": "label"}
             }}
          ]
        }
      ],
      "spacing": 0,
      "bounds": "flush",
      "resolve": {"scale": {"x": "independent", "y": "independent", "color": "independent"}, "legend": {"color": "independent"}}
    }
  ],
  "spacing": 22,
  "resolve": {"scale": {"x": "independent", "y": "independent", "color": "independent"}, "legend": {"color": "independent"}}
}
